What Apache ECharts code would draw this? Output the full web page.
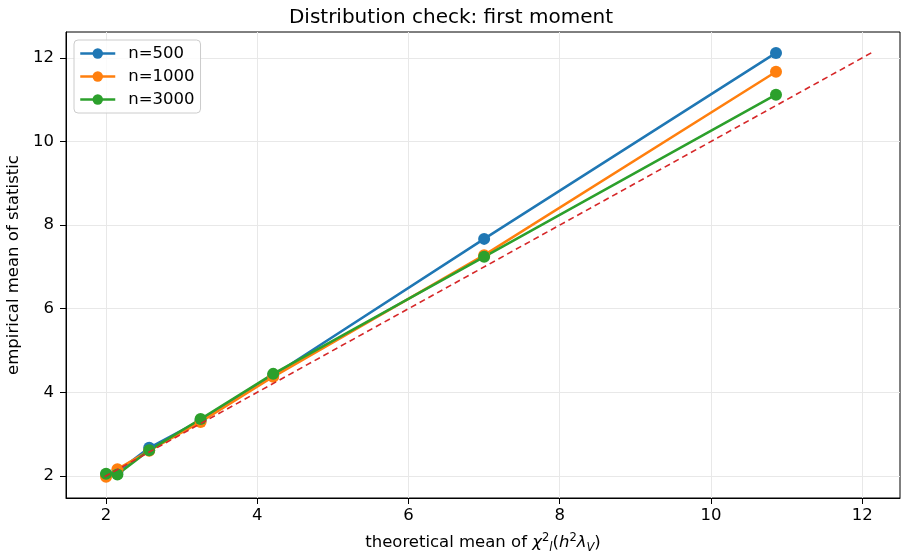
<!DOCTYPE html>
<html>
<head>
<meta charset="utf-8">
<script src="https://cdn.jsdelivr.net/npm/echarts@6/dist/echarts.min.js"></script>
<style>
  html, body { margin: 0; padding: 0; background: #fff; }
  #main { width: 902px; height: 552px; }
</style>
</head>
<body>
<div id="main"></div>
<script>
// theoretical mean on x, empirical mean for each sample size on y
var xTheory = [2.0, 2.15, 2.57, 3.25, 4.21, 7.0, 10.86];
var n500 = [2.03, 2.1, 2.67, 3.33, 4.4, 7.67, 12.12];
var n1000 = [1.98, 2.16, 2.6, 3.29, 4.37, 7.28, 11.67];
var n3000 = [2.05, 2.03, 2.61, 3.36, 4.44, 7.24, 11.12];
var refLine = [1.98, 12.13];
var xTicks = [2, 4, 6, 8, 10, 12];
var yTicks = [2, 4, 6, 8, 10, 12];

var font = 'DejaVu Sans';
var fs = 16.5;

function pairs(xs, ys) {
  return xs.map(function (x, i) { return [x, ys[i]]; });
}

var chartDom = document.getElementById('main');
var myChart = echarts.init(chartDom);

function lineSeries(name, color, ys) {
  return {
    name: name,
    type: 'line',
    data: pairs(xTheory, ys),
    color: color,
    symbol: 'circle',
    symbolSize: 12,
    lineStyle: { width: 2.5, color: color },
    itemStyle: { color: color },
    animation: false
  };
}

var option = {
  backgroundColor: '#fff',
  title: {
    text: 'Distribution check: first moment',
    left: 'center',
    top: 3,
    textStyle: { fontFamily: font, fontSize: 20, fontWeight: 'normal', color: '#000' }
  },
  legend: {
    orient: 'vertical',
    left: 74,
    top: 40,
    padding: [5, 6, 5, 5],
    itemWidth: 35,
    itemHeight: 13,
    itemGap: 6,
    borderColor: '#ccc',
    borderWidth: 1,
    borderRadius: 4,
    backgroundColor: 'rgba(255,255,255,0.8)',
    lineStyle: { width: 2.5 },
    textStyle: { fontFamily: font, fontSize: fs, color: '#000', padding: [0, 0, 0, 8] },
    data: ['n=500', 'n=1000', 'n=3000']
  },
  grid: {
    left: 66, right: 2, top: 32, bottom: 54, containLabel: false,
    outerBoundsMode: 'none',
    show: true, borderColor: '#000', borderWidth: 1, backgroundColor: 'transparent'
  },
  xAxis: {
    type: 'value',
    min: 1.47,
    max: 12.5,
    axisLine: { show: true, onZero: false, lineStyle: { color: '#000', width: 1 } },
    axisTick: { show: true, length: 6, lineStyle: { color: '#000' }, customValues: xTicks },
    axisLabel: { color: '#000', fontFamily: font, fontSize: fs, margin: 9, customValues: xTicks },
    splitLine: { show: true, lineStyle: { color: '#e8e8e8', width: 1 } },
    name: 'theoretical mean of {i|χ}{sup|2}{sub|l}{n|(}{i|h}{sup|2}{i|λ}{sub|V}{n|)}',
    nameLocation: 'middle',
    nameGap: 34,
    nameTextStyle: {
      fontFamily: font, fontSize: fs, color: '#000', lineHeight: 22,
      rich: {
        n: { fontFamily: font, fontSize: fs, color: '#000', lineHeight: 22 },
        i: { fontFamily: font, fontSize: fs, color: '#000', lineHeight: 22, fontStyle: 'italic' },
        sup: { fontFamily: font, fontSize: 11.5, color: '#000', lineHeight: 22, verticalAlign: 'top' },
        sub: { fontFamily: font, fontSize: 11.5, color: '#000', lineHeight: 22, verticalAlign: 'bottom', fontStyle: 'italic' }
      }
    }
  },
  yAxis: {
    type: 'value',
    min: 1.47,
    max: 12.62,
    axisLine: { show: true, onZero: false, lineStyle: { color: '#000', width: 1 } },
    axisTick: { show: true, length: 6, lineStyle: { color: '#000' }, customValues: yTicks },
    axisLabel: { color: '#000', fontFamily: font, fontSize: fs, margin: 12, customValues: yTicks },
    splitLine: { show: true, lineStyle: { color: '#e8e8e8', width: 1 } },
    name: 'empirical mean of statistic',
    nameLocation: 'middle',
    nameGap: 34,
    nameTextStyle: { fontFamily: font, fontSize: fs, color: '#000' }
  },
  series: [
    lineSeries('n=500', '#1f77b4', n500),
    lineSeries('n=1000', '#ff7f0e', n1000),
    lineSeries('n=3000', '#2ca02c', n3000),
    {
      name: 'y=x',
      type: 'line',
      data: pairs(refLine, refLine),
      symbol: 'none',
      lineStyle: { color: '#d62728', width: 1.6, type: [6, 4] },
      z: 5,
      silent: true,
      animation: false
    }
  ]
};

option && myChart.setOption(option);
</script>
</body>
</html>
